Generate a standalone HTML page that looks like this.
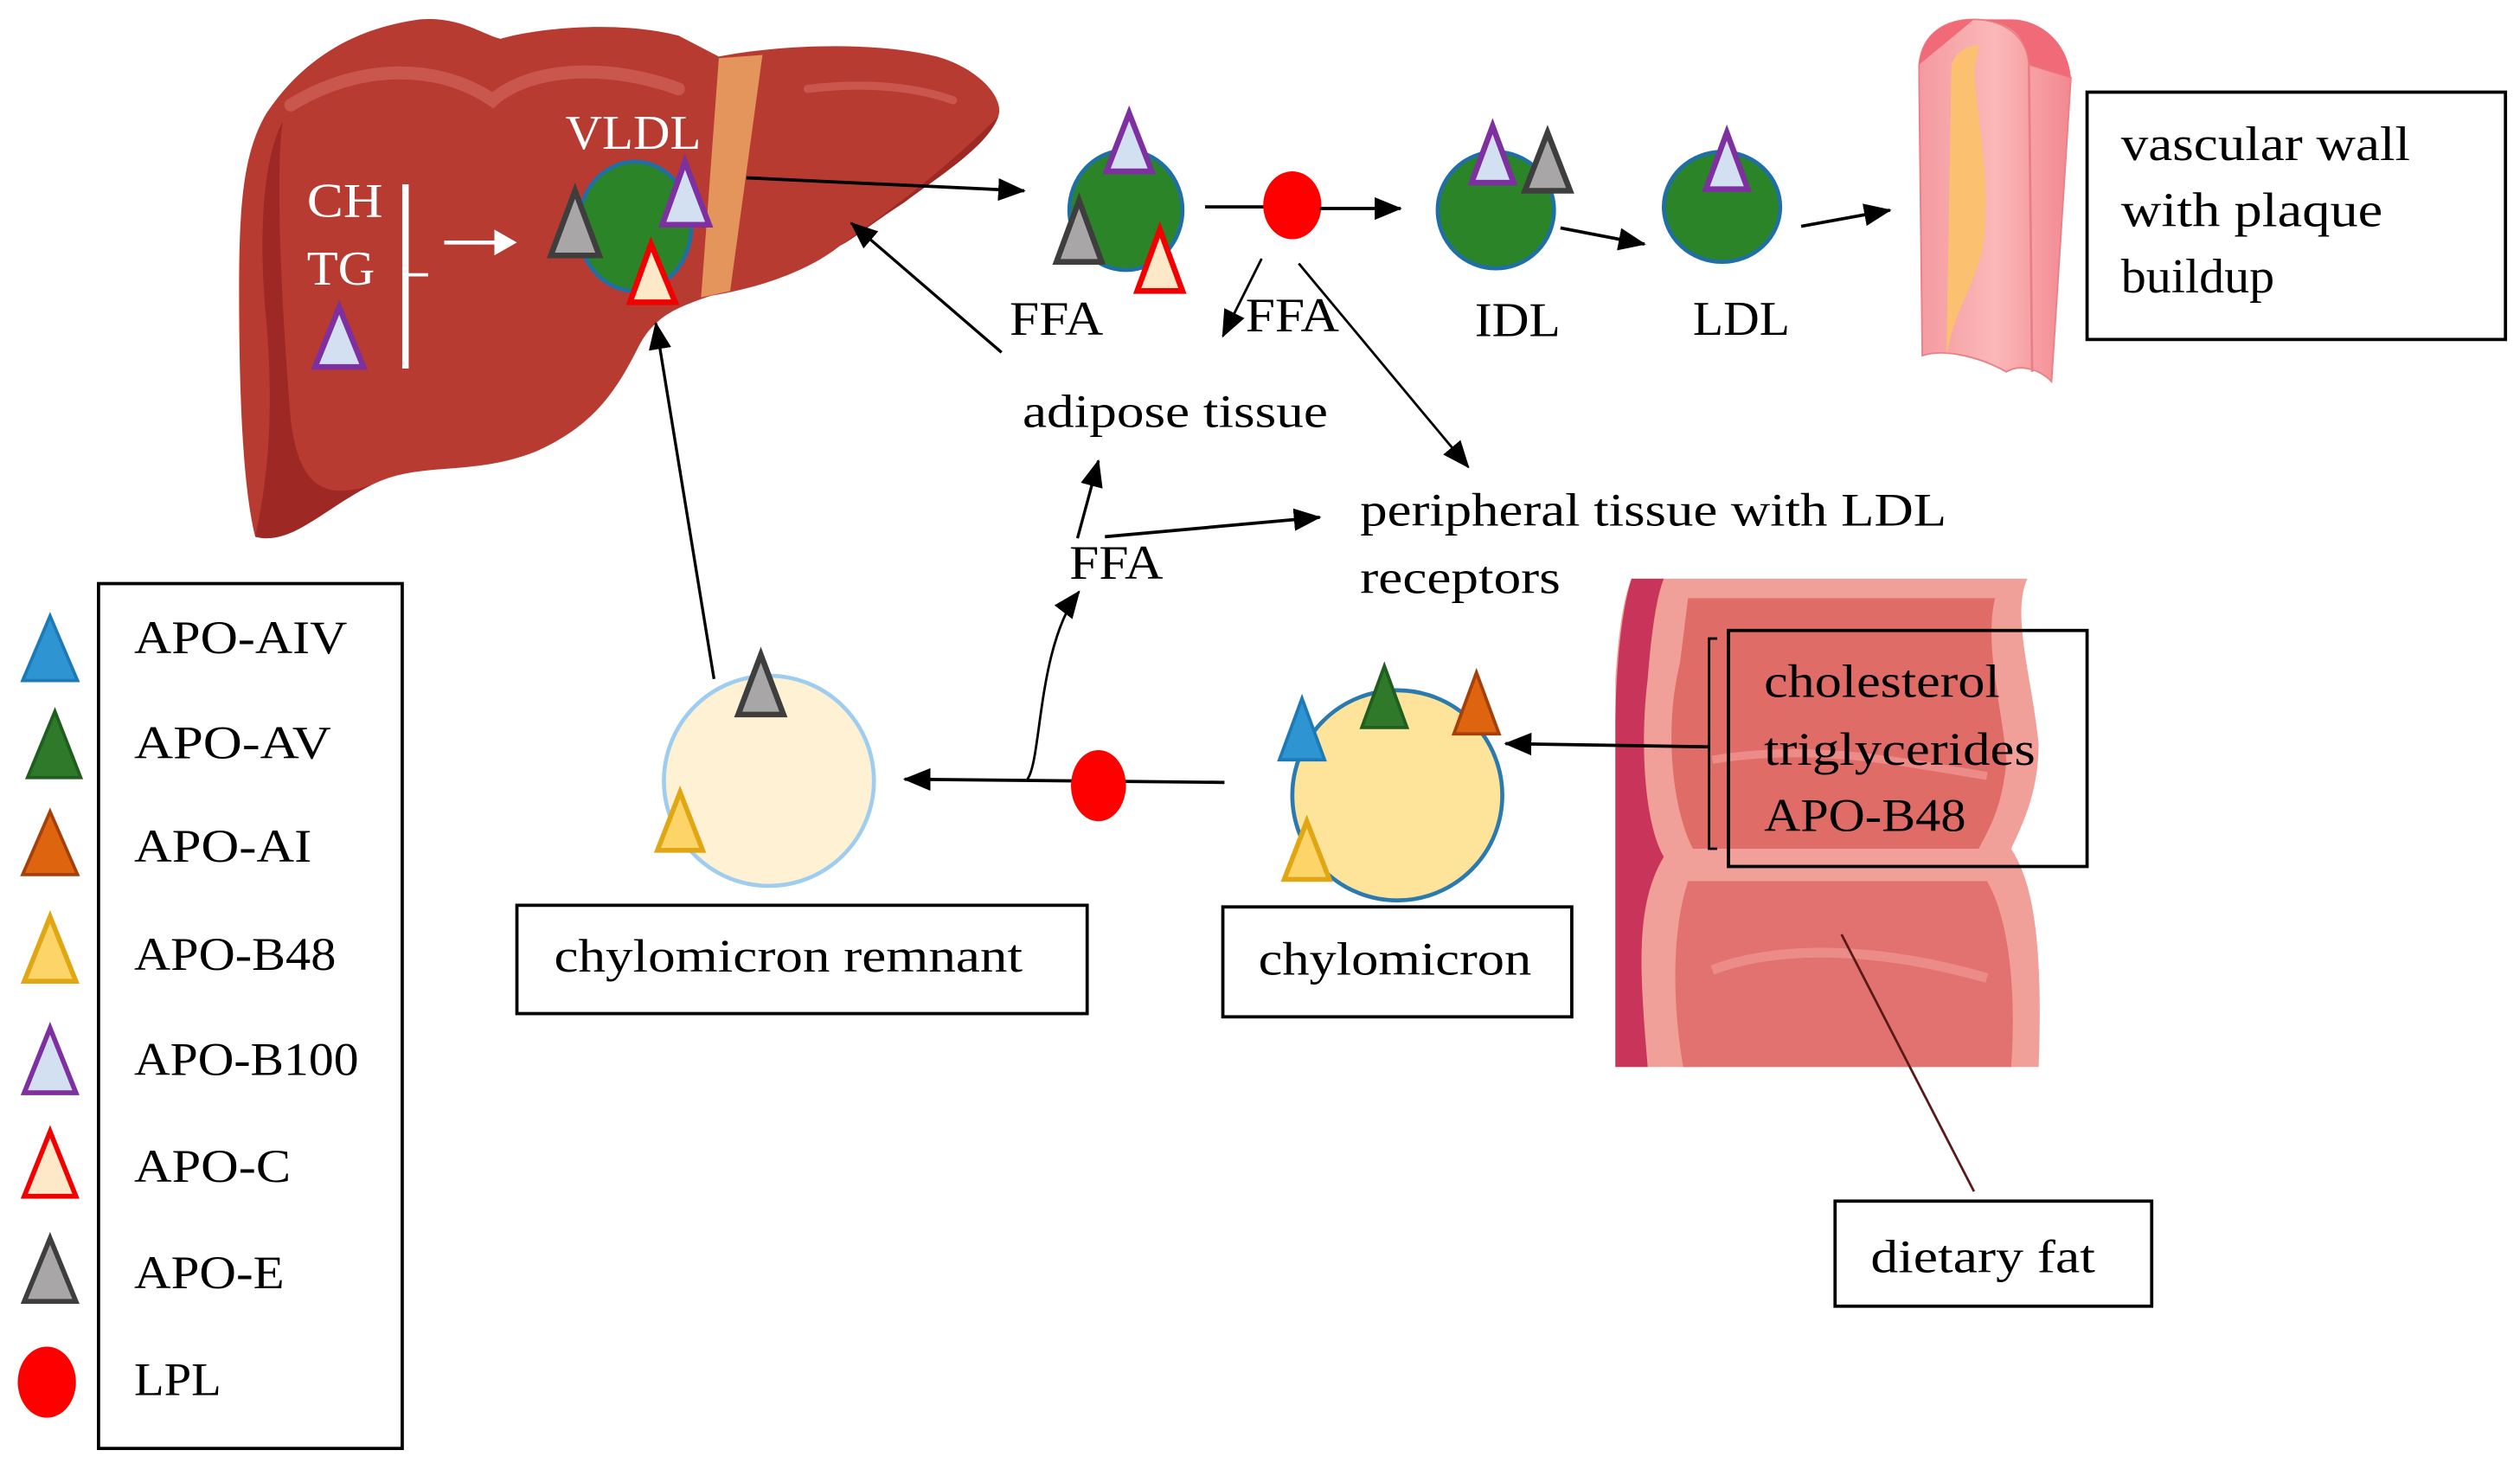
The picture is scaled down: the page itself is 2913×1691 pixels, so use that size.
<!DOCTYPE html>
<html><head><meta charset="utf-8">
<style>
html,body{margin:0;padding:0;background:#fff;}
svg{display:block;}
text{font-family:"Liberation Serif",serif;}
</style></head>
<body>
<svg width="2913" height="1691" viewBox="0 0 1560 905" preserveAspectRatio="none" xmlns="http://www.w3.org/2000/svg">
<defs>
<marker id="ahw" markerWidth="16" markerHeight="16" refX="12" refY="8" orient="auto" markerUnits="userSpaceOnUse">
<path d="M0,0 L14,8 L0,16 z" fill="#fff"/>
</marker>
<marker id="a" markerWidth="18" markerHeight="18" refX="16" refY="9" orient="auto" markerUnits="userSpaceOnUse">
<path d="M0,2 L17,9 L0,16 z" fill="#000"/>
</marker>
<linearGradient id="vg" x1="0" x2="1"><stop offset="0" stop-color="#f49aa0"/><stop offset="0.5" stop-color="#fbb8b8"/><stop offset="1" stop-color="#f28890"/></linearGradient>
</defs>

<!-- Liver -->
<path d="M158,332 C150,300 148,240 148,180 C148,130 150,95 165,70 C185,40 215,18 260,12 C285,10 300,22 310,24 C330,18 380,12 420,22 L445,35 C480,28 540,25 580,35 C605,42 622,60 618,72 C612,90 580,110 560,125 C540,138 528,148 520,152 C500,168 470,178 440,183 C420,190 405,195 395,215 C380,245 365,265 330,280 C290,295 260,285 230,300 C200,315 180,338 158,332 Z" fill="#b83b32"/>
<path d="M158,332 C165,300 170,260 165,200 C160,150 162,100 175,75 C170,110 175,200 180,260 C185,300 200,310 230,300 C260,285 290,295 330,280 C365,265 380,245 395,215 C405,195 420,190 440,183 C470,178 500,168 520,152 C540,138 580,110 618,72 C612,90 580,110 560,125 C540,138 528,148 520,152 C500,168 470,178 440,183 C420,190 405,195 395,215 C380,245 365,265 330,280 C290,295 260,285 230,300 C200,315 180,338 158,332 Z" fill="#9e2824"/>
<path d="M180,65 C220,40 270,38 305,62 C330,40 380,40 420,55" stroke="#c9574e" stroke-width="8" fill="none" stroke-linecap="round"/>
<path d="M500,55 C540,50 570,55 590,62" stroke="#c9574e" stroke-width="5" fill="none" stroke-linecap="round"/>
<path d="M445,36 L472,34 L452,180 L434,184 Z" fill="#e3955c"/>

<!-- CH TG -->
<text x="190" y="134" font-size="30" fill="#fff" textLength="47" lengthAdjust="spacingAndGlyphs">CH</text>
<text x="190" y="176" font-size="30" fill="#fff" textLength="42" lengthAdjust="spacingAndGlyphs">TG</text>
<line x1="251" y1="114" x2="251" y2="228" stroke="#fff" stroke-width="4"/>
<line x1="251" y1="170" x2="265" y2="170" stroke="#fff" stroke-width="2"/>
<line x1="275" y1="150" x2="318" y2="150" stroke="#fff" stroke-width="2.5" marker-end="url(#ahw)"/>
<polygon points="210,190 195,227 225,227" fill="#d3e0f2" stroke="#7e2fa0" stroke-width="3.5"/>

<!-- VLDL in liver -->
<text x="350" y="92" font-size="30" fill="#fff" textLength="84" lengthAdjust="spacingAndGlyphs">VLDL</text>
<ellipse cx="393" cy="140" rx="35" ry="40" fill="#2c8428" stroke="#1f6fa5" stroke-width="2.5"/>
<polygon points="356,118 341,158 371,158" fill="#a8a6a6" stroke="#3e3e3e" stroke-width="3.5"/>
<polygon points="424,100 410,139 439,139" fill="#d3e0f2" stroke="#7e2fa0" stroke-width="3.5"/>
<polygon points="403,151 390,187 418,187" fill="#fde9c8" stroke="#f20000" stroke-width="3.5"/>

<line x1="462" y1="110" x2="634" y2="118" stroke="#000" stroke-width="2" marker-end="url(#a)"/>

<!-- VLDL 2 -->
<ellipse cx="697" cy="130" rx="35" ry="37" fill="#2c8428" stroke="#1f6fa5" stroke-width="2.5"/>
<polygon points="699,70 685,106 713,106" fill="#d3e0f2" stroke="#7e2fa0" stroke-width="3.5"/>
<polygon points="668,124 654,162 682,162" fill="#a8a6a6" stroke="#3e3e3e" stroke-width="3.5"/>
<polygon points="718,142 704,180 732,180" fill="#fde9c8" stroke="#f20000" stroke-width="3.5"/>
<text x="625" y="207" font-size="30" textLength="58" lengthAdjust="spacingAndGlyphs">FFA</text>

<line x1="746" y1="128" x2="785" y2="128" stroke="#000" stroke-width="2"/>
<ellipse cx="800" cy="127" rx="18" ry="21" fill="#f00"/>
<line x1="817" y1="129" x2="867" y2="129" stroke="#000" stroke-width="2" marker-end="url(#a)"/>
<line x1="781" y1="160" x2="757" y2="208" stroke="#000" stroke-width="1.5" marker-end="url(#a)"/>
<text x="771" y="205" font-size="30" textLength="58" lengthAdjust="spacingAndGlyphs">FFA</text>
<line x1="804" y1="163" x2="909" y2="289" stroke="#000" stroke-width="1.5" marker-end="url(#a)"/>

<!-- IDL -->
<ellipse cx="926" cy="130" rx="36" ry="36" fill="#2c8428" stroke="#1f6fa5" stroke-width="2.5"/>
<polygon points="924,78 911,113 937,113" fill="#d3e0f2" stroke="#7e2fa0" stroke-width="3.5"/>
<polygon points="958,82 944,118 972,118" fill="#a8a6a6" stroke="#3e3e3e" stroke-width="3.5"/>
<text x="913" y="208" font-size="30" textLength="53" lengthAdjust="spacingAndGlyphs">IDL</text>
<line x1="966" y1="141" x2="1018" y2="151" stroke="#000" stroke-width="2" marker-end="url(#a)"/>

<!-- LDL -->
<ellipse cx="1066" cy="128" rx="36" ry="34" fill="#2c8428" stroke="#1f6fa5" stroke-width="2.5"/>
<polygon points="1069,82 1056,117 1082,117" fill="#d3e0f2" stroke="#7e2fa0" stroke-width="3.5"/>
<text x="1048" y="207" font-size="30" textLength="60" lengthAdjust="spacingAndGlyphs">LDL</text>
<line x1="1115" y1="140" x2="1170" y2="130" stroke="#000" stroke-width="2" marker-end="url(#a)"/>

<!-- vessel -->
<path d="M1188,40 C1190,20 1205,12 1222,12 C1240,12 1255,22 1256,40 L1282,48 L1270,236 C1262,228 1250,225 1242,230 C1228,222 1205,215 1190,220 L1188,50 Z" fill="url(#vg)" stroke="#e98088" stroke-width="1"/>
<path d="M1188,40 C1190,20 1205,12 1222,12 C1240,12 1255,20 1256,40 L1282,48 C1280,25 1262,12 1245,12 L1222,12 Z" fill="#f06a78"/>
<path d="M1208,40 C1212,30 1220,28 1225,28 L1222,45 C1225,80 1232,110 1228,150 C1222,180 1210,190 1205,220 L1208,40 Z" fill="#fbc070"/>
<line x1="1256" y1="40" x2="1258" y2="230" stroke="#e98088" stroke-width="1.5"/>

<!-- vascular box -->
<rect x="1292" y="57" width="259" height="153" fill="#fff" stroke="#000" stroke-width="2"/>
<text x="1313" y="99" font-size="30" textLength="179" lengthAdjust="spacingAndGlyphs">vascular wall</text>
<text x="1313" y="140" font-size="30" textLength="162" lengthAdjust="spacingAndGlyphs">with plaque</text>
<text x="1313" y="181" font-size="30" textLength="95" lengthAdjust="spacingAndGlyphs">buildup</text>

<!-- adipose -->
<line x1="620" y1="218" x2="527" y2="138" stroke="#000" stroke-width="1.8" marker-end="url(#a)"/>
<text x="633" y="264" font-size="29" textLength="189" lengthAdjust="spacingAndGlyphs">adipose tissue</text>
<line x1="667" y1="333" x2="680" y2="285" stroke="#000" stroke-width="1.8" marker-end="url(#a)"/>
<text x="662" y="358" font-size="30" textLength="58" lengthAdjust="spacingAndGlyphs">FFA</text>
<line x1="684" y1="332" x2="817" y2="320" stroke="#000" stroke-width="2" marker-end="url(#a)"/>
<text x="842" y="325" font-size="29" textLength="363" lengthAdjust="spacingAndGlyphs">peripheral tissue with LDL</text>
<text x="842" y="367" font-size="29" textLength="124" lengthAdjust="spacingAndGlyphs">receptors</text>

<!-- liver up arrow -->
<line x1="442" y1="420" x2="406" y2="200" stroke="#000" stroke-width="1.8" marker-end="url(#a)"/>

<!-- chylomicron remnant -->
<ellipse cx="476" cy="483" rx="65" ry="65" fill="#fff1d3" stroke="#9fcdf0" stroke-width="2.5"/>
<polygon points="471,405 457,442 485,442" fill="#a8a6a6" stroke="#3e3e3e" stroke-width="3.5"/>
<polygon points="421,490 407,526 435,526" fill="#fdd468" stroke="#e0a614" stroke-width="3"/>
<rect x="320" y="560" width="353" height="67" fill="#fff" stroke="#000" stroke-width="2"/>
<text x="343" y="601" font-size="29" textLength="290" lengthAdjust="spacingAndGlyphs">chylomicron remnant</text>

<line x1="758" y1="484" x2="560" y2="482" stroke="#000" stroke-width="2" marker-end="url(#a)"/>
<ellipse cx="680" cy="486" rx="17" ry="22" fill="#f00"/>
<path d="M636,482 C645,470 642,400 668,366" stroke="#000" stroke-width="1.5" fill="none" marker-end="url(#a)"/>

<!-- intestine -->
<path d="M1010,358 L1255,358 C1245,380 1258,420 1262,460 C1262,490 1252,510 1245,525 C1258,545 1265,580 1262,660 L1000,660 L1000,420 C1002,390 1005,370 1010,358 Z" fill="#f0a098"/>
<path d="M1010,358 C1003,380 1000,420 1000,450 L1000,660 L1020,660 C1015,600 1012,560 1030,530 C1018,510 1015,460 1020,420 C1022,395 1025,370 1030,358 Z" fill="#c8345a"/>
<path d="M1045,370 L1235,370 C1228,400 1240,440 1242,470 C1240,500 1230,515 1225,525 L1048,525 C1035,500 1030,450 1040,410 Z" fill="#e06c68"/>
<path d="M1045,545 L1230,545 C1245,570 1248,620 1245,660 L1042,660 C1035,620 1035,575 1045,545 Z" fill="#e27270"/>
<path d="M1060,600 C1100,585 1160,585 1230,605" stroke="#ec8c88" stroke-width="6" fill="none"/>
<path d="M1060,470 C1120,460 1170,470 1230,480" stroke="#ec8c88" stroke-width="5" fill="none"/>

<path d="M1063,395 L1058,395 L1058,525 L1063,525" stroke="#000" stroke-width="1.5" fill="none"/>
<line x1="1058" y1="462" x2="932" y2="460" stroke="#000" stroke-width="2" marker-end="url(#a)"/>
<rect x="1070" y="390" width="222" height="146" fill="none" stroke="#000" stroke-width="2"/>
<text x="1092" y="431" font-size="29" textLength="146" lengthAdjust="spacingAndGlyphs">cholesterol</text>
<text x="1092" y="473" font-size="29" textLength="168" lengthAdjust="spacingAndGlyphs">triglycerides</text>
<text x="1092" y="514" font-size="29" textLength="125" lengthAdjust="spacingAndGlyphs">APO-B48</text>

<!-- chylomicron -->
<ellipse cx="865" cy="492" rx="65" ry="65" fill="#fde49a" stroke="#2a7ab0" stroke-width="2.5"/>
<polygon points="806,432 792,470 820,470" fill="#2f95d2" stroke="#1d7ab8" stroke-width="2"/>
<polygon points="857,412 843,450 871,450" fill="#2e7a2a" stroke="#1f5e1f" stroke-width="2"/>
<polygon points="914,416 900,454 928,454" fill="#df6410" stroke="#a54008" stroke-width="2"/>
<polygon points="809,508 795,544 823,544" fill="#fdd468" stroke="#e0a614" stroke-width="3"/>
<rect x="757" y="561" width="216" height="68" fill="#fff" stroke="#000" stroke-width="2"/>
<text x="779" y="603" font-size="29" textLength="169" lengthAdjust="spacingAndGlyphs">chylomicron</text>

<line x1="1140" y1="578" x2="1222" y2="737" stroke="#5a1a1a" stroke-width="1.5"/>
<rect x="1136" y="743" width="196" height="65" fill="#fff" stroke="#000" stroke-width="2"/>
<text x="1158" y="787" font-size="29" textLength="139" lengthAdjust="spacingAndGlyphs">dietary fat</text>

<!-- legend -->
<rect x="61" y="361" width="188" height="535" fill="#fff" stroke="#000" stroke-width="2"/>
<polygon points="31,381 14,421 48,421" fill="#2f95d2" stroke="#1d7ab8" stroke-width="2"/>
<text x="83" y="404" font-size="29" textLength="132" lengthAdjust="spacingAndGlyphs">APO-AIV</text>
<polygon points="34,440 17,481 50,481" fill="#2e7a2a" stroke="#1f5e1f" stroke-width="2"/>
<text x="83" y="469" font-size="29" textLength="122" lengthAdjust="spacingAndGlyphs">APO-AV</text>
<polygon points="31,502 14,541 48,541" fill="#df6410" stroke="#a54008" stroke-width="2"/>
<text x="83" y="533" font-size="29" textLength="110" lengthAdjust="spacingAndGlyphs">APO-AI</text>
<polygon points="31,567 15,607 47,607" fill="#fdd468" stroke="#e0a614" stroke-width="3"/>
<text x="83" y="600" font-size="29" textLength="125" lengthAdjust="spacingAndGlyphs">APO-B48</text>
<polygon points="31,636 15,676 47,676" fill="#d3e0f2" stroke="#7e2fa0" stroke-width="3"/>
<text x="83" y="665" font-size="29" textLength="139" lengthAdjust="spacingAndGlyphs">APO-B100</text>
<polygon points="31,700 15,740 47,740" fill="#fde9c8" stroke="#f20000" stroke-width="3"/>
<text x="83" y="731" font-size="29" textLength="97" lengthAdjust="spacingAndGlyphs">APO-C</text>
<polygon points="31,766 15,805 47,805" fill="#a8a6a6" stroke="#3e3e3e" stroke-width="3"/>
<text x="83" y="797" font-size="29" textLength="93" lengthAdjust="spacingAndGlyphs">APO-E</text>
<ellipse cx="29" cy="855" rx="18" ry="22" fill="#f00"/>
<text x="83" y="863" font-size="29" textLength="54" lengthAdjust="spacingAndGlyphs">LPL</text>
</svg>
</body></html>
